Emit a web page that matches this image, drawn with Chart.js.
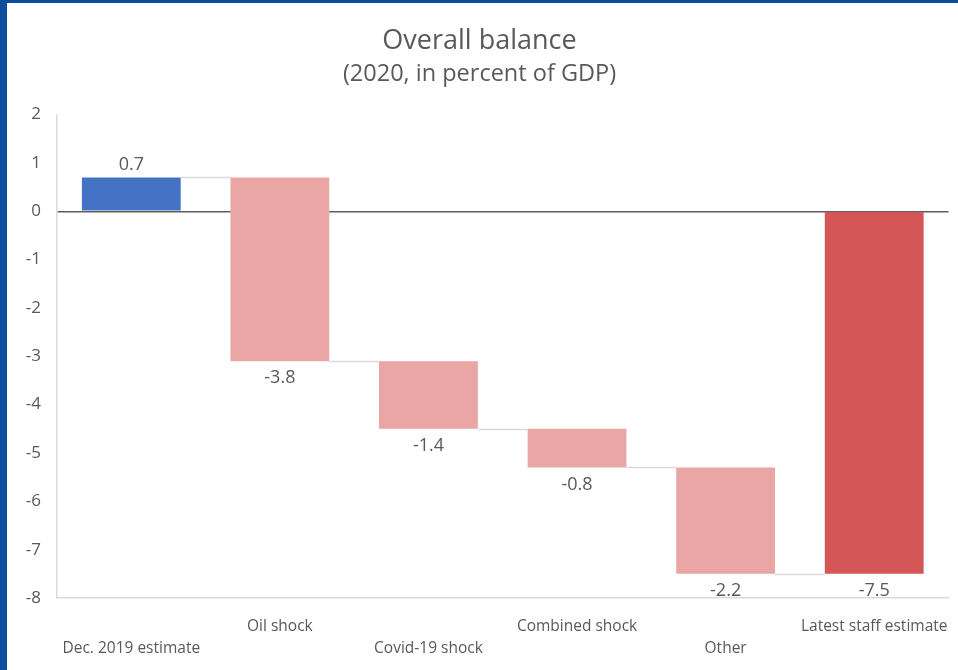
<!DOCTYPE html>
<html>
<head>
<meta charset="utf-8">
<script src="https://cdn.jsdelivr.net/npm/chart.js@4/dist/chart.umd.min.js"></script>
<style>
  html, body { margin: 0; padding: 0; background: #fff; }
  #frame {
    position: absolute; left: 0; top: 0; width: 958px; height: 670px;
    background: #0b4f9c;
  }
  #box {
    position: absolute; left: 7px; top: 3px; width: 951px; height: 667px;
    background: #fff;
  }
</style>
</head>
<body>
<div id="frame"><div id="box"><canvas id="balanceChart"></canvas></div></div>
<script>
"use strict";

// waterfall data: change of each step, and whether the bar is a total
var categories = ['Dec. 2019 estimate', 'Oil shock', 'Covid-19 shock', 'Combined shock', 'Other', 'Latest staff estimate'];
var changes = [0.7, -3.8, -1.4, -0.8, -2.2, -7.5];
var isTotal = [true, false, false, false, false, true];
var yTicks = [2, 1, 0, -1, -2, -3, -4, -5, -6, -7, -8];

var colTotalStart = '#4472c4';
var colStep = '#e9a6a5';
var colTotalEnd = '#d55657';
var textCol = '#595959';
var fontFam = '"Open Sans", Lato, sans-serif';

// floating bars [from, to]
var bars = [];
var level = 0;
for (var i = 0; i < changes.length; i++) {
    if (isTotal[i]) {
        bars.push([0, changes[i]]);
        level = changes[i];
    } else {
        bars.push([level, level + changes[i]]);
        level = level + changes[i];
    }
}
var barColors = changes.map(function (v, i) {
    if (i === 0) return colTotalStart;
    if (isTotal[i]) return colTotalEnd;
    return colStep;
});

// staggered category labels: even index on lower line, odd on upper line
var xLabels = categories.map(function (c, i) {
    return i % 2 === 0 ? ['', c] : [c, ''];
});

var waterfallExtras = {
    id: 'waterfallExtras',
    afterDatasetsDraw: function (chart) {
        var ctx = chart.ctx;
        var meta = chart.getDatasetMeta(0);
        var y = chart.scales.y;
        ctx.save();
        ctx.strokeStyle = '#d9d9d9';
        ctx.lineWidth = 1.5;
        for (var i = 0; i < meta.data.length - 1; i++) {
            var a = meta.data[i], b = meta.data[i + 1];
            var py = Math.round(y.getPixelForValue(bars[i][1])) + 0.5;
            ctx.beginPath();
            ctx.moveTo(a.x + a.width / 2, py);
            ctx.lineTo(b.x - b.width / 2, py);
            ctx.stroke();
        }
        ctx.fillStyle = textCol;
        ctx.font = '18px ' + fontFam;
        ctx.textAlign = 'center';
        ctx.textBaseline = 'middle';
        meta.data.forEach(function (el, i) {
            var top = Math.min(el.y, el.base);
            var bottom = Math.max(el.y, el.base);
            var txt = changes[i].toFixed(1);
            if (changes[i] > 0) {
                ctx.fillText(txt, el.x, top - 13);
            } else {
                ctx.fillText(txt, el.x, bottom + 17);
            }
        });
        ctx.restore();
    }
};

var ctx1 = document.getElementById('balanceChart').getContext('2d');
var balanceChart = new Chart(ctx1, {
    type: 'bar',
    data: {
        labels: xLabels,
        datasets: [{
            data: bars,
            backgroundColor: barColors,
            barPercentage: 0.665,
            categoryPercentage: 1.0
        }]
    },
    options: {
        responsive: true,
        maintainAspectRatio: false,
        animation: false,
        layout: { padding: { left: 0, right: 6, top: 0, bottom: 0 } },
        plugins: {
            legend: { display: false },
            tooltip: { enabled: false },
            title: {
                display: true,
                text: 'Overall balance',
                color: textCol,
                font: { family: fontFam, size: 27, weight: 'normal', lineHeight: 1.2 },
                padding: { top: 22, bottom: 3 }
            },
            subtitle: {
                display: true,
                text: '(2020, in percent of GDP)',
                color: textCol,
                font: { family: fontFam, size: 23.5, weight: 'normal', lineHeight: 1.2 },
                padding: { top: 0, bottom: 26 }
            }
        },
        scales: {
            x: {
                afterFit: function (scale) { scale.height = 72; },
                grid: { display: false },
                border: { display: true, color: '#d9d9d9', width: 1.5 },
                ticks: {
                    color: textCol,
                    font: { family: fontFam, size: 15.5, lineHeight: 1.42 },
                    autoSkip: false,
                    maxRotation: 0,
                    padding: 10
                }
            },
            y: {
                min: -8,
                max: 2,
                z: 1,
                afterFit: function (scale) { scale.width = 50; },
                afterBuildTicks: function (scale) {
                    scale.ticks = yTicks.map(function (v) { return { value: v }; });
                },
                grid: {
                    drawTicks: false,
                    color: function (c) { return c.tick && c.tick.value === 0 ? '#5f5f5f' : 'rgba(0,0,0,0)'; },
                    lineWidth: 1.5
                },
                border: { display: true, color: '#d9d9d9', width: 1.5 },
                ticks: {
                    color: textCol,
                    font: { family: fontFam, size: 17 },
                    padding: 16
                }
            }
        }
    },
    plugins: [waterfallExtras]
});
</script>
</body>
</html>
